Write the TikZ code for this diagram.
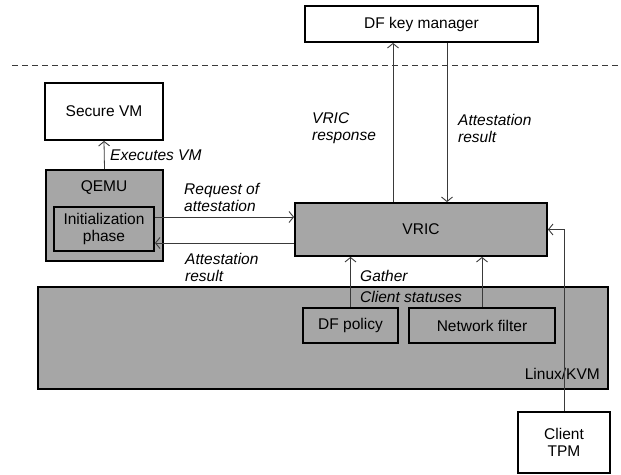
\documentclass[tikz,border=0pt]{standalone}
\usepackage{fontspec}
\setmainfont{Liberation Sans}
\usetikzlibrary{arrows.meta}
\definecolor{boxgray}{HTML}{A6A6A6}
\definecolor{linegray}{HTML}{3A3A3A}
\tikzset{
  txt/.style={font=\fontsize{15.5bp}{17bp}\selectfont},
  box/.style={txt, draw=black, line width=1.8bp, inner sep=0pt, align=center, fill=white},
  graybox/.style={box, fill=boxgray},
  conn/.style={draw=linegray, line width=0.8bp, -{Straight Barb[length=4.5bp,width=11bp,line width=0.9bp]}},
  lbl/.style={txt, font=\fontsize{15.5bp}{17bp}\selectfont\itshape, align=left, inner sep=0pt, anchor=west},
}
\begin{document}
\begin{tikzpicture}[x=1bp,y=-1bp]
\useasboundingbox (0,0) rectangle (621,475);
% separator
\coordinate (dl) at (12,65);
\coordinate (dr) at (621,65);
\draw[linegray, line width=0.8bp, dash pattern=on 6bp off 4bp] (dl) -- (dr);
% boxes
\node[box, minimum width=233bp, minimum height=36bp] (dfkey) at (421.5,24) {DF key manager};
\node[box, minimum width=118bp, minimum height=57bp] (svm) at (104,111.5) {Secure VM};
\node[graybox, minimum width=117bp, minimum height=91bp] (qemu) at (104.5,215.5) {};
\node[txt, inner sep=0pt] (qemutext) at (104,188) {QEMU};
\node[graybox, minimum width=100bp, minimum height=44bp] (init) at (104,229) {Initialization\\phase};
\node[graybox, minimum width=252bp, minimum height=53bp] (vric) at (421,229.5) {VRIC};
\node[graybox, line width=1.5bp, minimum width=570bp, minimum height=102bp] (linux) at (323,338) {};
\node[txt, inner sep=0pt, anchor=east] (linuxtext) at (600,374) {Linux/KVM};
\node[graybox, minimum width=95bp, minimum height=35bp] (dfpol) at (350.5,325.5) {DF policy};
\node[graybox, minimum width=146bp, minimum height=35bp] (netf) at (482,325.5) {Network filter};
\node[box, line width=2.4bp, minimum width=92bp, minimum height=61bp] (tpm) at (564,442.5) {Client\\TPM};
% helper coordinates
\coordinate (r1) at ([yshift=12bp]init.east);
\coordinate (a1) at ([yshift=-14bp]init.east);
\coordinate (v1) at ([xshift=-28bp]vric.north);
\coordinate (v2) at ([xshift=26bp]vric.north);
% connectors
\draw[conn] (qemu.north) -- (svm.south);
\draw[conn] (r1) -- (r1 -| vric.west);
\draw[conn] (a1 -| vric.west) -- (a1);
\draw[conn] (v1) -- (v1 |- dfkey.south);
\draw[conn] (v2 |- dfkey.south) -- (v2);
\draw[conn] (dfpol.north) -- (dfpol.north |- vric.south);
\draw[conn] (netf.north) -- (netf.north |- vric.south);
\draw[conn] (tpm.north) |- (vric.east);
% labels
\node[lbl] (lexec) at (110,155) {Executes VM};
\node[lbl] (lreq) at (184,197) {Request of\\attestation};
\node[lbl] (latt1) at (185,267) {Attestation\\result};
\node[lbl] (lresp) at (312,128) {VRIC\\response};
\node[lbl] (latt2) at (458,128) {Attestation\\result};
\node[lbl] (lgather) at (360,276) {Gather};
\node[lbl] (lclient) at (360,297) {Client statuses};
\end{tikzpicture}
\end{document}
